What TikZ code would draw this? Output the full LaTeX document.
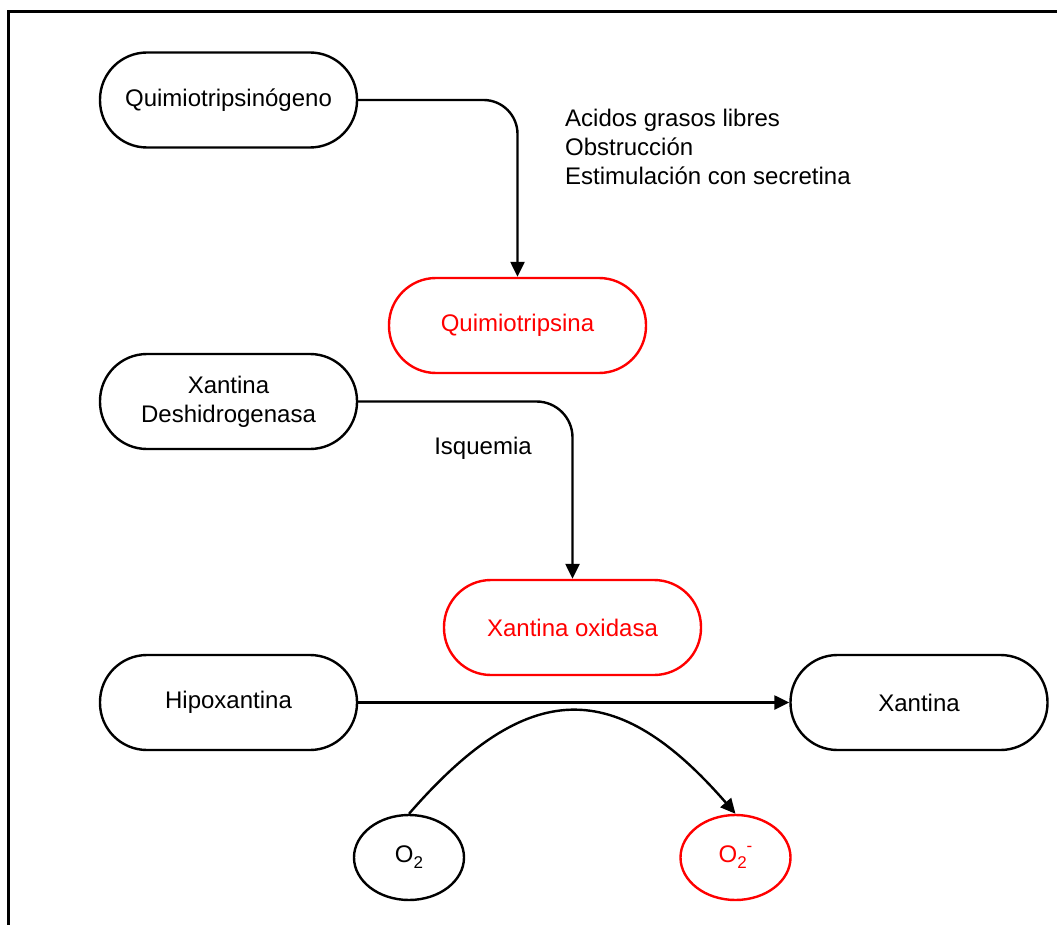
\documentclass[tikz,border=0pt]{standalone}
\usepackage{fontspec}
\setmainfont{Liberation Sans}
\usetikzlibrary{arrows.meta,shapes.geometric,calc}
\newcommand{\subtwo}{\raisebox{-6pt}{\fontsize{17}{17}\selectfont 2}}
\newcommand{\supminus}{\raisebox{11pt}{\fontsize{17}{17}\selectfont -}}
\begin{document}
\begin{tikzpicture}[x=1pt,y=-1pt,
  every node/.style={font=\fontsize{24}{29}\selectfont},
  pill/.style={draw, line width=2.4pt, rounded corners=47pt,
    minimum width=257pt, minimum height=95pt, align=center, inner sep=0pt},
  redpill/.style={pill, draw=red, text=red},
  oval/.style={draw, line width=2.4pt, ellipse, minimum width=110pt,
    minimum height=85pt, inner sep=0pt},
  redoval/.style={oval, draw=red, text=red},
  conn/.style={line width=2.4pt, -{Triangle[length=15pt,width=14pt]}},
  note/.style={align=left, inner sep=0pt}
]
\useasboundingbox (0,0) rectangle (1057,925);

% open frame: top and left edges
\coordinate (fr1) at (1057,12);
\coordinate (fr2) at (8,12);
\coordinate (fr3) at (8,925);
\draw[line width=3pt] (fr1) -- (fr2) -- (fr3);

% chymotrypsin activation
\node[pill]    (qg) at (228.5,100) {Quimiotripsinógeno};
\node[redpill] (qt) at (517.5,325.5) {Quimiotripsina};
\node[note, anchor=west] (causes) at (565,147)
  {\fontsize{24}{30.5}\selectfont Acidos grasos libres\\Obstrucción\\Estimulación con secretina};
\draw[conn, rounded corners=34pt] (qg.east) -| (qt.north);

% xanthine dehydrogenase to oxidase
\node[pill]    (xd) at (228.5,401.5) {Xantina\\Deshidrogenasa};
\node[redpill] (xo) at (572.5,627.5) {Xantina oxidasa};
\node[inner sep=0pt] (isq) at (483,448) {Isquemia};
\draw[conn, rounded corners=36pt] (xd.east) -| (xo.north);

% hypoxanthine to xanthine, superoxide formation
\node[pill] (hx) at (228.5,702.5) {Hipoxantina};
\node[pill] (xa) at (919,702.5) {Xantina};
\draw[conn] (hx.east) -- (xa.west);

\node[oval]    (o2)  at (409,857.5) {O\subtwo};
\node[redoval] (o2m) at (735.5,857.5) {O\subtwo\supminus};
\draw[conn] (o2.north) .. controls ($(o2.north)+(119,-137)$)
  and ($(o2m.north)+(-119,-137)$) .. (o2m.north);
\end{tikzpicture}
\end{document}
